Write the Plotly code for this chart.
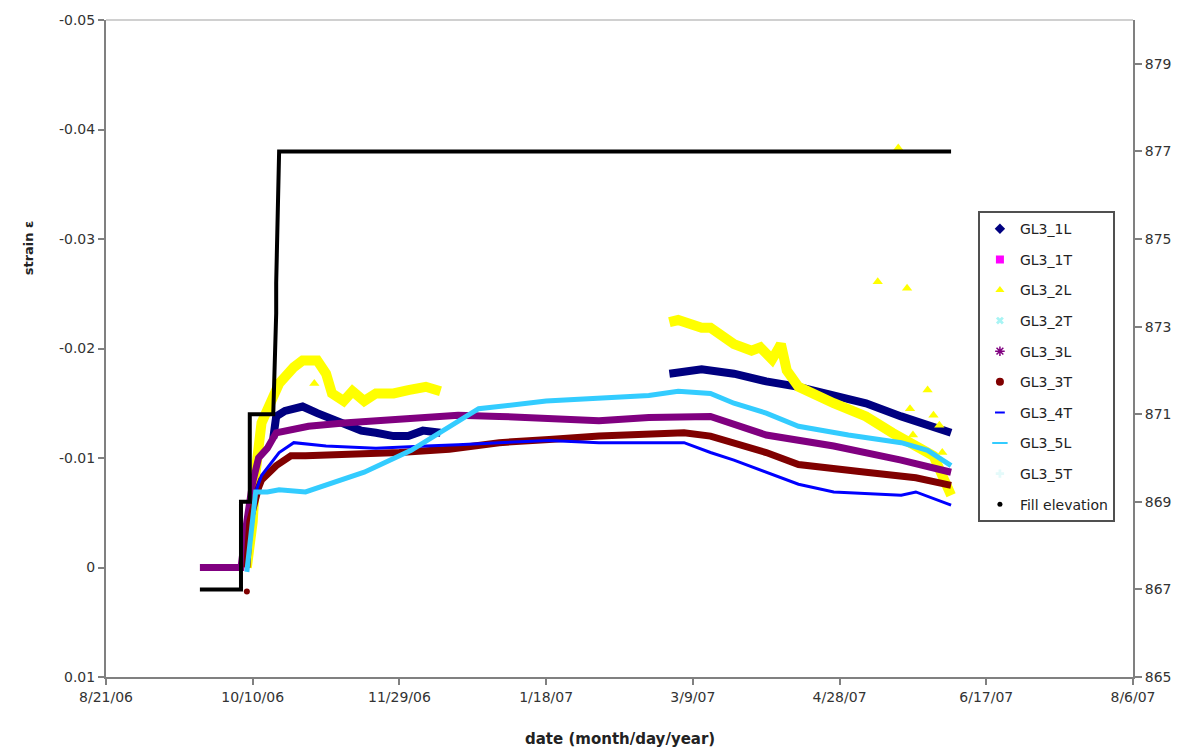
import plotly.graph_objects as go

# ---------------- data ----------------
x_tick_vals = ["2006-08-21", "2006-10-10", "2006-11-29", "2007-01-18",
               "2007-03-09", "2007-04-28", "2007-06-17", "2007-08-06"]
x_tick_text = ["8/21/06", "10/10/06", "11/29/06", "1/18/07",
               "3/9/07", "4/28/07", "6/17/07", "8/6/07"]
y_tick_vals = [-0.05, -0.04, -0.03, -0.02, -0.01, 0.0, 0.01]
y_tick_text = ["-0.05", "-0.04", "-0.03", "-0.02", "-0.01", "0", "0.01"]
y2_tick_vals = [865, 867, 869, 871, 873, 875, 877, 879]

# GL3_1L (navy)
navy_dates = ["2006-10-17", "2006-10-18", "2006-10-21", "2006-10-27", "2006-11-01",
              "2006-11-08", "2006-11-16", "2006-11-21", "2006-11-27", "2006-12-02",
              "2006-12-07", "2006-12-13", None,
              "2007-03-01", "2007-03-12", "2007-03-23", "2007-04-03", "2007-04-14",
              "2007-04-26", "2007-05-07", "2007-05-19", "2007-06-05"]
navy_vals = [-0.0118, -0.0138, -0.0143, -0.0147, -0.0141,
             -0.0134, -0.0125, -0.0123, -0.0120, -0.0120,
             -0.0125, -0.0123, None,
             -0.0177, -0.0181, -0.0177, -0.0170, -0.0165,
             -0.0157, -0.0150, -0.0138, -0.0123]

# GL3_2L (yellow)
yel_dates = ["2006-10-08", "2006-10-10", "2006-10-11", "2006-10-13", "2006-10-16",
             "2006-10-19", "2006-10-24", "2006-10-27", "2006-11-01", "2006-11-04",
             "2006-11-06", "2006-11-10", "2006-11-13", "2006-11-17", "2006-11-21",
             "2006-11-27", "2006-12-02", "2006-12-08", "2006-12-13", None,
             "2007-03-01", "2007-03-04", "2007-03-12", "2007-03-15", "2007-03-23",
             "2007-03-29", "2007-04-01", "2007-04-05", "2007-04-07", "2007-04-08",
             "2007-04-10", "2007-04-14", "2007-04-26", "2007-05-07", "2007-05-16",
             "2007-05-24", "2007-05-30", "2007-06-05"]
yel_vals = [0.0, -0.0042, -0.0087, -0.0132, -0.0150,
            -0.0168, -0.0183, -0.0189, -0.0189, -0.0177,
            -0.0159, -0.0152, -0.0161, -0.0152, -0.0159,
            -0.0159, -0.0162, -0.0165, -0.0161, None,
            -0.0224, -0.0226, -0.0219, -0.0219, -0.0204,
            -0.0198, -0.0201, -0.0190, -0.0199, -0.0204,
            -0.0180, -0.0165, -0.0150, -0.0138, -0.0123,
            -0.0111, -0.0102, -0.0066]
yel_out_dates = ["2006-10-31", "2007-05-11", "2007-05-18", "2007-05-21", "2007-05-22",
                 "2007-05-23", "2007-05-28", "2007-05-30", "2007-06-01", "2007-06-02"]
yel_out_vals = [-0.0168, -0.0261, -0.0383, -0.0255, -0.0145,
                -0.0121, -0.0162, -0.0139, -0.0130, -0.0105]

# GL3_3L (purple)
pur_dates = ["2006-09-22", "2006-10-06", "2006-10-08", "2006-10-10", "2006-10-12",
             "2006-10-15", "2006-10-18", "2006-10-21", "2006-10-29", "2006-11-10",
             "2006-11-21", "2006-12-02", "2006-12-19", "2007-01-02", "2007-01-19",
             "2007-02-05", "2007-02-22", "2007-03-15", "2007-04-03", "2007-04-26",
             "2007-05-19", "2007-06-05"]
pur_vals = [0.0, 0.0, -0.0042, -0.0078, -0.0100,
            -0.0109, -0.0123, -0.0125, -0.0129, -0.0132,
            -0.0134, -0.0136, -0.0139, -0.0138, -0.0136,
            -0.0134, -0.0137, -0.0138, -0.0121, -0.0111,
            -0.0098, -0.0087]

# GL3_3T (dark red)
red_dates = ["2006-10-08", "2006-10-09", "2006-10-12", "2006-10-13", "2006-10-18",
             "2006-10-23", "2006-10-28", "2006-11-12", "2006-11-29", "2006-12-16",
             "2007-01-02", "2007-01-19", "2007-02-05", "2007-03-06", "2007-03-15",
             "2007-04-03", "2007-04-14", "2007-05-07", "2007-05-24", "2007-06-05"]
red_vals = [0.0, -0.0042, -0.0073, -0.0080, -0.0093,
            -0.0102, -0.0102, -0.0103, -0.0105, -0.0108,
            -0.0114, -0.0117, -0.0120, -0.0123, -0.0120,
            -0.0105, -0.0094, -0.0087, -0.0082, -0.0075]
red_pt_dates = ["2006-10-08"]
red_pt_vals = [0.0022]

# GL3_4T (blue)
blu_dates = ["2006-10-08", "2006-10-10", "2006-10-11", "2006-10-13", "2006-10-19",
             "2006-10-24", "2006-11-04", "2006-11-21", "2006-12-08", "2006-12-19",
             "2007-01-02", "2007-01-19", "2007-02-05", "2007-03-06", "2007-03-15",
             "2007-03-23", "2007-04-14", "2007-04-26", "2007-05-19", "2007-05-24",
             "2007-06-05"]
blu_vals = [0.0, -0.0042, -0.0069, -0.0084, -0.0105,
            -0.0114, -0.0111, -0.0109, -0.0111, -0.0112,
            -0.0114, -0.0116, -0.0114, -0.0114, -0.0105,
            -0.0098, -0.0076, -0.0069, -0.0066, -0.0069,
            -0.0057]

# GL3_5L (sky blue)
cya_dates = ["2006-10-08", "2006-10-09", "2006-10-10", "2006-10-11", "2006-10-15",
             "2006-10-19", "2006-10-28", "2006-11-17", "2006-12-03", "2006-12-26",
             "2007-01-18", "2007-02-05", "2007-02-22", "2007-03-04", "2007-03-15",
             "2007-03-23", "2007-04-03", "2007-04-14", "2007-05-01", "2007-05-19",
             "2007-05-28", "2007-06-05"]
cya_vals = [0.0004, -0.0023, -0.0048, -0.0069, -0.0069,
            -0.0071, -0.0069, -0.0087, -0.0107, -0.0145,
            -0.0152, -0.0154, -0.0157, -0.0161, -0.0159,
            -0.0150, -0.0141, -0.0129, -0.0121, -0.0114,
            -0.0107, -0.0093]

# Fill elevation (right axis)
fill_dates = ["2006-09-22", "2006-10-06", "2006-10-06", "2006-10-09", "2006-10-09",
              "2006-10-17", "2006-10-18", "2006-10-18", "2006-10-19", "2007-06-05"]
fill_vals = [867, 867, 869, 869, 871, 871, 873.3, 874, 877, 877]

legend_names = ["GL3_1L", "GL3_1T", "GL3_2L", "GL3_2T", "GL3_3L",
                "GL3_3T", "GL3_4T", "GL3_5L", "GL3_5T", "Fill elevation"]

# ---------------- figure ----------------
FONT = "DejaVu Sans"
fig = go.Figure()

def line(x, y, color, width, yaxis="y"):
    fig.add_trace(go.Scatter(x=x, y=y, mode="lines", yaxis=yaxis,
                             line=dict(color=color, width=width),
                             showlegend=False, hoverinfo="skip", connectgaps=False))

line(navy_dates, navy_vals, "#000080", 8)
line(yel_dates, yel_vals, "#FFFF00", 10)
fig.add_trace(go.Scatter(x=yel_out_dates, y=yel_out_vals, mode="markers",
                         marker=dict(symbol="triangle-up", color="#FFFF00", size=9),
                         showlegend=False, hoverinfo="skip"))
line(pur_dates, pur_vals, "#800080", 7)
line(red_dates, red_vals, "#800000", 7)
fig.add_trace(go.Scatter(x=red_pt_dates, y=red_pt_vals, mode="markers",
                         marker=dict(symbol="circle", color="#800000", size=6),
                         showlegend=False, hoverinfo="skip"))
line(blu_dates, blu_vals, "#0000FF", 3)
line(cya_dates, cya_vals, "#33CCFF", 5)
line(fill_dates, fill_vals, "#000000", 4, yaxis="y2")

# legend-only entries
legend_markers = [
    dict(symbol="diamond", color="#000080", size=8),
    dict(symbol="square", color="#FF00FF", size=8),
    dict(symbol="triangle-up", color="#FFFF00", size=8),
    dict(symbol="x", color="#A8F4F4", size=7),
    dict(symbol="asterisk-open", color="#800080", size=8, line=dict(color="#800080", width=1.5)),
    dict(symbol="circle", color="#800000", size=8),
    dict(symbol="line-ew-open", color="#0000FF", size=7, line=dict(color="#0000FF", width=2)),
    dict(symbol="line-ew-open", color="#33CCFF", size=11, line=dict(color="#33CCFF", width=2)),
    dict(symbol="cross", color="#E4FAFA", size=7),
    dict(symbol="circle", color="#000000", size=5),
]
for i, (nm, mk) in enumerate(zip(legend_names, legend_markers)):
    fig.add_trace(go.Scatter(x=[None], y=[None], mode="markers", name=nm,
                             marker=mk, legendgroup=f"g{i}", showlegend=True))

axis_font = dict(family=FONT, size=14, color="#333333")
fig.update_layout(
    width=1185, height=753,
    margin=dict(l=106, r=52, t=12, b=76),
    paper_bgcolor="white", plot_bgcolor="white",
    showlegend=True,
    xaxis=dict(type="date", range=["2006-08-21", "2007-08-06"],
               tickvals=x_tick_vals, ticktext=x_tick_text, tickfont=axis_font,
               showline=True, linecolor="#808080", linewidth=2,
               ticks="outside", ticklen=6, tickcolor="#808080", tickwidth=1.5,
               showgrid=False, zeroline=False),
    yaxis=dict(range=[0.01, -0.05], tickvals=y_tick_vals, ticktext=y_tick_text,
               tickfont=axis_font, showline=True, linecolor="#808080", linewidth=2,
               ticks="outside", ticklen=6, tickcolor="#808080", tickwidth=1.5,
               showgrid=False, zeroline=False),
    yaxis2=dict(overlaying="y", side="right", range=[865, 880],
                tickvals=y2_tick_vals, tickfont=axis_font,
                showline=True, linecolor="#808080", linewidth=2,
                ticks="outside", ticklen=7, tickcolor="#808080", tickwidth=1.5,
                showgrid=False, zeroline=False),
    yaxis3=dict(overlaying="y", side="right", range=[865, 880],
                tickvals=y2_tick_vals, showticklabels=False,
                showline=False, ticks="inside", ticklen=5, tickcolor="#808080",
                tickwidth=1.5, showgrid=False, zeroline=False),
    legend=dict(x=0.849, y=0.709, xanchor="left", yanchor="top",
                bordercolor="#505050", borderwidth=2, bgcolor="white",
                font=dict(family=FONT, size=14, color="#222222"),
                traceorder="grouped", tracegroupgap=9.4),
    shapes=[dict(type="line", xref="paper", yref="paper", x0=0, x1=1, y0=1, y1=1,
                 line=dict(color="#C0C0C0", width=1.5))],
    annotations=[
        dict(text="<b>date (month/day/year)</b>", xref="paper", yref="paper",
             x=0.5, y=-0.0947, xanchor="center", yanchor="middle", showarrow=False,
             font=dict(family=FONT, size=15, color="#222222")),
        dict(text="<b>strain ε</b>", xref="paper", yref="paper",
             x=-0.076, y=0.654, xanchor="center", yanchor="middle", textangle=-90,
             showarrow=False, font=dict(family=FONT, size=13, color="#222222")),
    ],
)

fig.write_html("out.html")
